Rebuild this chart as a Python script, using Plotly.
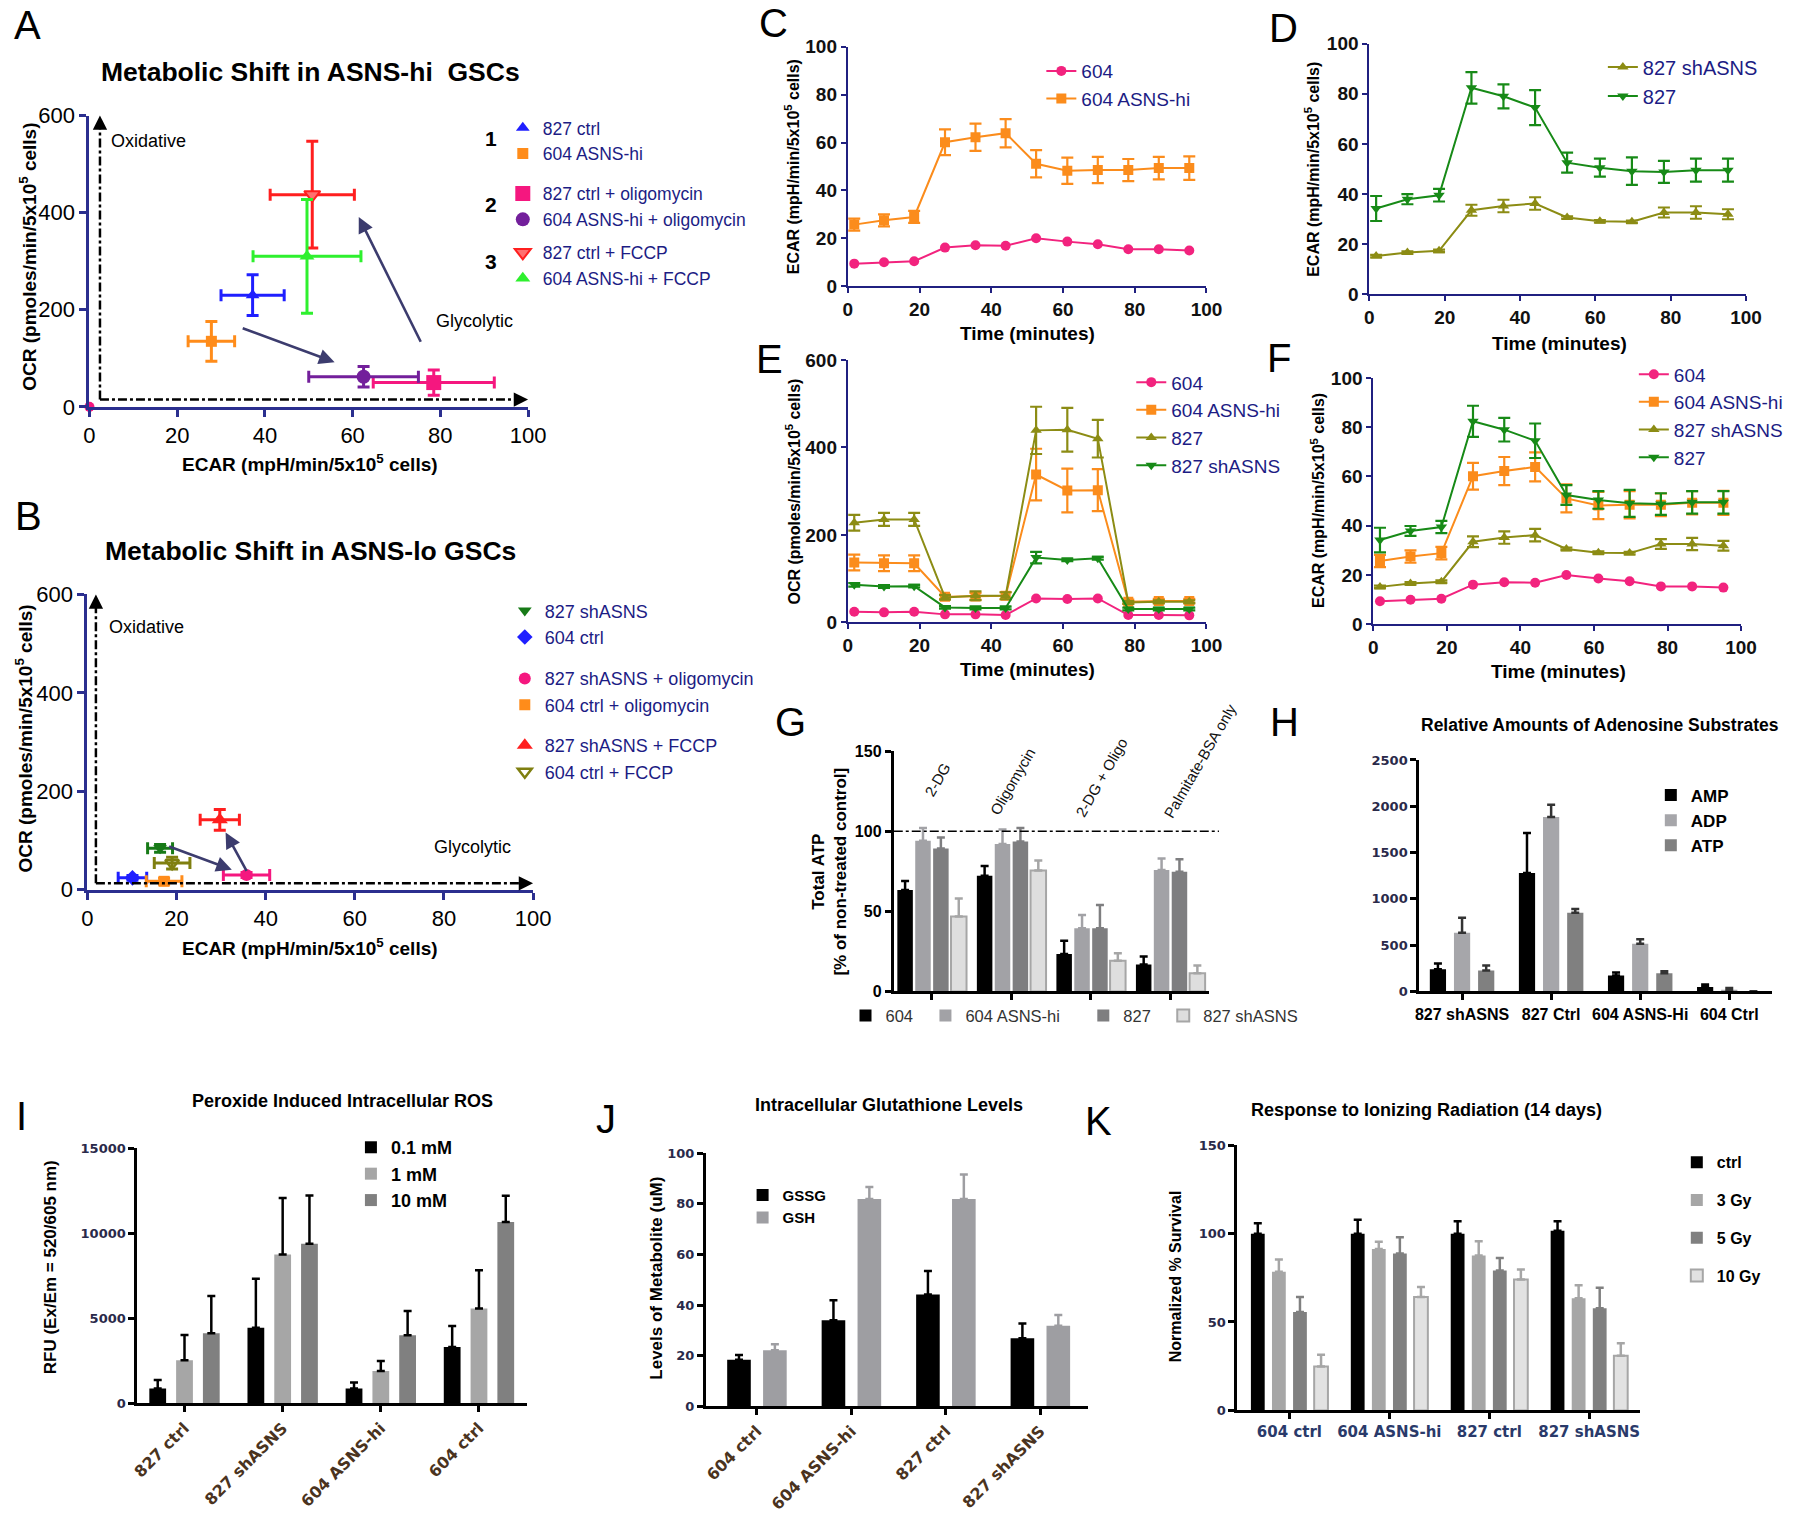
import plotly.graph_objects as go

W, H = 1800, 1525

# ---------------- data ----------------
A_names = ['827 ctrl', '604 ASNS-hi', '827 ctrl + oligomycin', '604 ASNS-hi + oligomycin',
           '827 ctrl + FCCP', '604 ASNS-hi + FCCP']
A_ecar = [37.2, 27.8, 78.5, 62.5, 50.8, 49.6]
A_ecar_err = [7.2, 5.3, 13.8, 12.5, 9.6, 12.3]
A_ocr = [230, 135, 50, 62, 437, 310]
A_ocr_err = [42, 41, 26, 21, 110, 117]
A_origin_ecar = [0]
A_origin_ocr = [0]

B_names = ['827 shASNS', '604 ctrl', '827 shASNS + oligomycin', '604 ctrl + oligomycin',
           '827 shASNS + FCCP', '604 ctrl + FCCP']
B_ecar = [16.3, 10.1, 35.7, 17.2, 29.7, 19.0]
B_ecar_err = [2.8, 3.2, 5.2, 4.0, 4.4, 4.0]
B_ocr = [84, 24, 30, 17, 142, 54]
B_ocr_err = [8, 5, 5, 6, 21, 12]

time_min = [1.8, 10.1, 18.5, 27.1, 35.6, 44.0, 52.5, 61.2, 69.7, 78.2, 86.7, 95.2]
ecar_604 = [9.4, 10.0, 10.4, 16.1, 17.1, 16.9, 20.0, 18.6, 17.5, 15.4, 15.4, 14.9]
ecar_604hi = [25.7, 27.5, 28.9, 60.1, 62.2, 63.9, 51.1, 48.2, 48.5, 48.5, 49.3, 49.3]
ecar_604hi_err = [2.5, 2.5, 2.5, 5.4, 5.7, 5.9, 5.7, 5.5, 5.5, 4.6, 4.7, 4.9]
ecar_827sh = [15.2, 16.6, 17.3, 33.5, 35.2, 36.2, 30.6, 29.1, 28.9, 32.6, 32.6, 31.9]
ecar_827sh_err = [0.5, 0.5, 0.5, 2.2, 2.5, 2.5, 0.5, 0.5, 0.5, 2.0, 2.5, 2.0]
ecar_827 = [34.2, 37.9, 39.5, 82.4, 79.0, 74.5, 52.5, 50.5, 49.1, 48.8, 49.5, 49.5]
ecar_827_err = [5.0, 2.0, 2.5, 6.3, 4.8, 7.0, 4.0, 3.6, 5.5, 4.4, 4.6, 4.6]

ocr_604 = [24.3, 22.8, 24.3, 18.2, 18.2, 16.7, 54.7, 53.2, 54.7, 16.7, 16.7, 16.0]
ocr_604hi = [136.7, 135, 135, 58.5, 59.2, 60.8, 338, 301.5, 302.3, 47, 48.6, 48.6]
ocr_604hi_err = [18, 18, 18, 5, 8, 8, 59, 50, 48, 5, 5, 5]
ocr_827 = [227.8, 235.4, 235.4, 57, 60.8, 60.8, 439, 440.5, 420, 45.6, 47, 47]
ocr_827_err = [18, 15, 15, 5, 10, 8, 54, 50, 43, 3, 3, 3]
ocr_827sh = [85.8, 82, 82.8, 34.2, 32.7, 32.7, 148, 142.8, 146.6, 30.4, 30.4, 30.4]
ocr_827sh_err = [4, 3, 3, 3, 3, 3, 13, 3, 3, 3, 3, 3]

G_cats = ['2-DG', 'Oligomycin', '2-DG + Oligo', 'Palmitate-BSA only']
G_names = ['604', '604 ASNS-hi', '827', '827 shASNS']
G_vals = [[63.3, 72.2, 23.4, 16.8],
          [94.0, 92.0, 39.4, 75.7],
          [89.2, 93.6, 39.4, 74.7],
          [46.7, 75.5, 19.1, 11.4]]
G_errs = [[5.6, 6.0, 8.3, 5.0],
          [8.0, 9.0, 8.3, 7.3],
          [6.8, 8.4, 14.6, 7.7],
          [11.3, 6.2, 4.8, 4.8]]
G_ref = [100]

H_cats = ['827 shASNS', '827 Ctrl', '604 ASNS-Hi', '604 Ctrl']
H_names = ['AMP', 'ADP', 'ATP']
H_vals = [[240, 1280, 172, 47],
          [635, 1883, 516, 18],
          [226, 850, 197, 3]]
H_errs = [[61, 431, 32, 28],
          [161, 133, 47, 18],
          [54, 40, 22, 0]]

I_cats = ['827 ctrl', '827 shASNS', '604 ASNS-hi', '604 ctrl']
I_names = ['0.1 mM', '1 mM', '10 mM']
I_vals = [[880, 4450, 880, 3320],
          [2540, 8750, 1910, 5570],
          [4120, 9380, 4000, 10660]]
I_errs = [[490, 2870, 350, 1230],
          [1480, 3320, 590, 2250],
          [2190, 2830, 1430, 1540]]

J_cats = ['604 ctrl', '604 ASNS-hi', '827 ctrl', '827 shASNS']
J_names = ['GSSG', 'GSH']
J_vals = [[18.4, 34.0, 44.2, 26.9],
          [22.2, 81.9, 81.9, 31.8]]
J_errs = [[1.9, 7.9, 9.2, 5.8],
          [2.3, 4.7, 9.6, 4.3]]

K_cats = ['604 ctrl', '604 ASNS-hi', '827 ctrl', '827 shASNS']
K_names = ['ctrl', '3 Gy', '5 Gy', '10 Gy']
K_vals = [[99.8, 99.8, 99.8, 101.6],
          [78.4, 91.3, 87.6, 63.4],
          [55.7, 88.7, 79.1, 57.8],
          [24.8, 64.1, 74.0, 30.9]]
K_errs = [[6.0, 8.0, 7.1, 5.3],
          [6.9, 4.0, 8.0, 7.3],
          [8.4, 9.2, 7.1, 11.6],
          [6.7, 5.6, 5.7, 7.0]]

# ---------------- styles ----------------
FONT = 'Liberation Sans, Arial, sans-serif'
WIDE = 'DejaVu Sans, Verdana, sans-serif'
NAVY = '#1c1c84'
AXNAVY = '#2b2f8f'
PINK = '#f2237e'
ORANGE = '#fb8c1c'
OLIVE = '#8c8c14'
GREEN = '#178a17'
SLATE = '#3c3c6e'
NUMCOL = '#2a2a4a'

A_colors = ['#1f1fff', '#ff8c1a', '#f5177f', '#731f9b', '#ff1f1f', '#2ef02e']
A_symbols = ['triangle-up', 'square', 'square', 'circle', 'triangle-down', 'triangle-up']
A_sizes = [12, 11, 15, 14, 14, 13]
B_colors = ['#177a17', '#1f1fff', '#f5177f', '#ff8c1a', '#ff1f1f', '#7f7f10']
B_symbols = ['triangle-down', 'diamond', 'circle', 'square', 'triangle-up', 'triangle-down-open']
B_sizes = [12, 12, 12, 11, 14, 12]

# the page shot maps figure pixels a little shrunk and shifted; positions below are
# given in final picture pixels and mapped back here
SX, OX = 0.9875, 13.5
SY, OY = 0.986, 19.2


def fx(p):
    return (p - OX) / SX


def fy(p):
    return (p - OY) / SY


def px(p):
    return fx(p) / W


def py(p):
    return 1 - fy(p) / H


fig = go.Figure()


def ax_names(n):
    return ('x', 'y') if n == 1 else ('x%d' % n, 'y%d' % n)


def add_axes(n, box, xkw, ykw):
    x0, x1, y0, y1 = box
    sx, sy = ax_names(n)
    kx = 'xaxis' if n == 1 else 'xaxis%d' % n
    ky = 'yaxis' if n == 1 else 'yaxis%d' % n
    base = dict(showgrid=False, zeroline=False, showline=True, ticks='outside', fixedrange=True)
    fig.update_layout(**{kx: dict(base, domain=[px(x0), px(x1)], anchor=sy, **xkw),
                         ky: dict(base, domain=[py(y1), py(y0)], anchor=sx, **ykw)})


annotations = []
shapes = []


def note(x, y, text, size, color='black', bold=False, angle=0, xanchor='center',
         yanchor='middle', family=FONT):
    annotations.append(dict(x=px(x), y=py(y), xref='paper', yref='paper', text=text,
                            showarrow=False, textangle=angle, xanchor=xanchor, yanchor=yanchor,
                            font=dict(size=size, color=color, family=family,
                                      weight='bold' if bold else 'normal')))


def legend_box(key, text_x, row_y, size, color='black', bold=False, gap=0, orientation='v',
               family=FONT):
    top = fy(row_y) - (0.65 * size + 7.6)
    fig.update_layout(**{key: dict(x=(fx(text_x) - 40.8) / W, y=1 - top / H,
                                   xanchor='left', yanchor='top',
                                   bgcolor='rgba(0,0,0,0)', orientation=orientation,
                                   tracegroupgap=gap, traceorder='grouped' if gap else 'normal',
                                   font=dict(size=size, color=color, family=family,
                                             weight='bold' if bold else 'normal'))})


# ---------------- A and B ----------------
def scatter_panel(n, legkeys, names, ecar, ecar_err, ocr, ocr_err, colors, symbols, sizes):
    sx, sy = ax_names(n)
    for i, name in enumerate(names):
        c = colors[i]
        mk = dict(symbol=symbols[i], size=sizes[i], color=c)
        if symbols[i].endswith('open'):
            mk['line'] = dict(color=c, width=2.5)
        if name.endswith('ctrl + FCCP') and n == 1:
            mk = dict(symbol=symbols[i], size=sizes[i], color='#ff7070', line=dict(color=c, width=2))
        fig.add_trace(go.Scatter(
            x=[ecar[i]], y=[ocr[i]], mode='markers', name=name, marker=mk,
            error_x=dict(type='data', array=[ecar_err[i]], color=c, thickness=3, width=6),
            error_y=dict(type='data', array=[ocr_err[i]], color=c, thickness=3, width=6),
            xaxis=sx, yaxis=sy, legend=legkeys[i // 2], cliponaxis=False))


axA = dict(linecolor=AXNAVY, linewidth=3, tickcolor=AXNAVY, tickwidth=2.5, ticklen=7,
           tickfont=dict(size=22, color='black', family=FONT))
add_axes(1, (89, 528, 115, 407), dict(axA, range=[0, 100], dtick=20),
         dict(axA, range=[0, 600], dtick=200))
add_axes(2, (87, 533, 595, 891), dict(axA, range=[0, 100], dtick=20),
         dict(axA, range=[0, 600], dtick=200))

scatter_panel(1, ['legend', 'legend12', 'legend13'], A_names, A_ecar, A_ecar_err, A_ocr, A_ocr_err,
              A_colors, A_symbols, A_sizes)
fig.add_trace(go.Scatter(x=A_origin_ecar, y=A_origin_ocr, mode='markers', showlegend=False,
                         marker=dict(color=A_colors[2], size=10), cliponaxis=False,
                         xaxis='x', yaxis='y'))
scatter_panel(2, ['legend2', 'legend14', 'legend15'], B_names, B_ecar, B_ecar_err, B_ocr, B_ocr_err,
              B_colors, B_symbols, B_sizes)

for key, row in [('legend', 128), ('legend12', 194), ('legend13', 253)]:
    legend_box(key, 543, row, 17.5, NAVY)
for key, row in [('legend2', 612), ('legend14', 680), ('legend15', 747)]:
    legend_box(key, 545, row, 18, NAVY)
for lab, yy in zip(['1', '2', '3'], [138, 204, 261]):
    note(491, yy, lab, 21, bold=True)


def quadrant_axes(sx, sy, xv, yh):
    shapes.append(dict(type='line', xref=sx, yref=sy, x0=xv, x1=xv, y0=yh, y1=585,
                       line=dict(color='black', width=2.5, dash='dashdot')))
    shapes.append(dict(type='line', xref=sx, yref=sy, x0=xv, x1=97, y0=yh, y1=yh,
                       line=dict(color='black', width=2.5, dash='dashdot')))
    annotations.append(dict(x=xv, y=600, xref=sx, yref=sy, ax=0, ay=14, text='', showarrow=True,
                            arrowhead=2, arrowsize=1.3, arrowwidth=2.2, arrowcolor='black'))
    annotations.append(dict(x=100, y=yh, xref=sx, yref=sy, ax=-14, ay=0, text='', showarrow=True,
                            arrowhead=2, arrowsize=1.3, arrowwidth=2.2, arrowcolor='black'))


def slate_arrow(sx, sy, x0, y0, x1, y1):
    annotations.append(dict(x=x1, y=y1, ax=x0, ay=y0, xref=sx, yref=sy, axref=sx, ayref=sy,
                            text='', showarrow=True, arrowhead=2, arrowsize=1.2,
                            arrowwidth=2.6, arrowcolor=SLATE))


quadrant_axes('x', 'y', 2.4, 15)
quadrant_axes('x2', 'y2', 1.9, 13)
slate_arrow('x', 'y', 34.6, 163, 55.9, 92)
slate_arrow('x', 'y', 75.7, 131, 61.4, 391)
slate_arrow('x2', 'y2', 18, 89, 32.4, 40.6)
slate_arrow('x2', 'y2', 35.9, 35, 31, 116)

for sx, sy, yo, yg, xg in [('x', 'y', 548, 177, 87.7), ('x2', 'y2', 533, 87, 86.5)]:
    annotations.append(dict(x=4.5, y=yo, xref=sx, yref=sy, text='Oxidative', showarrow=False,
                            xanchor='left', font=dict(size=18, color='black', family=FONT)))
    annotations.append(dict(x=xg, y=yg, xref=sx, yref=sy, text='Glycolytic', showarrow=False,
                            font=dict(size=18, color='black', family=FONT)))

note(310, 71, 'Metabolic Shift in ASNS-hi  GSCs', 26.5, bold=True)
note(310, 551, 'Metabolic Shift in ASNS-lo GSCs', 26.5, bold=True)
note(28, 256, 'OCR (pmoles/min/5x10<sup>5</sup> cells)', 19, bold=True, angle=-90)
note(310, 463, 'ECAR (mpH/min/5x10<sup>5</sup> cells)', 19, bold=True)
note(24, 739, 'OCR (pmoles/min/5x10<sup>5</sup> cells)', 19, bold=True, angle=-90)
note(310, 948, 'ECAR (mpH/min/5x10<sup>5</sup> cells)', 19, bold=True)

# ---------------- C-F ----------------
axT = dict(linecolor='#202080', linewidth=2, tickcolor='#202080', tickwidth=1.5, ticklen=5,
           tickfont=dict(size=19, color='#111111', family=FONT, weight='bold'))
add_axes(3, (848, 1207, 46, 286), dict(axT, range=[0, 100], dtick=20), dict(axT, range=[0, 100], dtick=20))
add_axes(4, (1370, 1747, 43, 294), dict(axT, range=[0, 100], dtick=20), dict(axT, range=[0, 100], dtick=20))
add_axes(5, (848, 1207, 360, 623), dict(axT, range=[0, 100], dtick=20), dict(axT, range=[0, 600], dtick=200))
add_axes(6, (1374, 1742, 378, 625), dict(axT, range=[0, 100], dtick=20), dict(axT, range=[0, 100], dtick=20))


def course(n, legkey, y, err, name, color, symbol):
    sx, sy = ax_names(n)
    eb = None
    if err is not None:
        eb = dict(type='data', array=err, color=color, thickness=2.2, width=6)
    fig.add_trace(go.Scatter(x=time_min, y=y, mode='lines+markers', name=name,
                             line=dict(color=color, width=2),
                             marker=dict(symbol=symbol, size=10, color=color),
                             error_y=eb, xaxis=sx, yaxis=sy, legend=legkey))


course(3, 'legend3', ecar_604, None, '604', PINK, 'circle')
course(3, 'legend3', ecar_604hi, ecar_604hi_err, '604 ASNS-hi', ORANGE, 'square')
course(4, 'legend4', ecar_827sh, ecar_827sh_err, '827 shASNS', OLIVE, 'triangle-up')
course(4, 'legend4', ecar_827, ecar_827_err, '827', GREEN, 'triangle-down')
course(5, 'legend5', ocr_604, None, '604', PINK, 'circle')
course(5, 'legend5', ocr_604hi, ocr_604hi_err, '604 ASNS-hi', ORANGE, 'square')
course(5, 'legend5', ocr_827, ocr_827_err, '827', OLIVE, 'triangle-up')
course(5, 'legend5', ocr_827sh, ocr_827sh_err, '827 shASNS', GREEN, 'triangle-down')
course(6, 'legend6', ecar_604, None, '604', PINK, 'circle')
course(6, 'legend6', ecar_604hi, ecar_604hi_err, '604 ASNS-hi', ORANGE, 'square')
course(6, 'legend6', ecar_827sh, ecar_827sh_err, '827 shASNS', OLIVE, 'triangle-up')
course(6, 'legend6', ecar_827, ecar_827_err, '827', GREEN, 'triangle-down')

legend_box('legend3', 1082, 71, 19, NAVY)
legend_box('legend4', 1644, 67, 20, NAVY)
legend_box('legend5', 1172, 383, 19, NAVY)
legend_box('legend6', 1675, 375, 19, NAVY)

ecar_title = 'ECAR (mpH/min/5x10<sup>5</sup> cells)'
ocr_title = 'OCR (pmoles/min/5x10<sup>5</sup> cells)'
note(793, 166, ecar_title, 16, bold=True, angle=-90)
note(1313, 169, ecar_title, 16, bold=True, angle=-90)
note(793, 492, ocr_title, 16, bold=True, angle=-90)
note(1318, 501, ecar_title, 16, bold=True, angle=-90)
for xx, yy in [(1028, 333), (1560, 343), (1028, 670), (1559, 672)]:
    note(xx, yy, 'Time (minutes)', 19, bold=True)

# ---------------- bar panels ----------------
axB = dict(linecolor='black', linewidth=3, tickcolor='black', tickwidth=2.5, ticklen=6)
numfont = dict(size=13, color=NUMCOL, family=WIDE, weight='bold')


def bars(n, legkeys, cats, vals, errs, names, fills, lines, ecolors, width, step, group=False):
    sx, sy = ax_names(n)
    k = len(vals)
    for i in range(k):
        offset = -((k - 1) * step + width) / 2 + i * step
        fig.add_trace(go.Bar(
            x=cats, y=vals[i], name=names[i], width=width, offset=offset,
            marker=dict(color=fills[i], line=dict(color=lines[i], width=2 if lines[i] != fills[i] else 0)),
            error_y=dict(type='data', array=errs[i], arrayminus=[0] * len(errs[i]), symmetric=False,
                         color=ecolors[i], thickness=2.5, width=4),
            xaxis=sx, yaxis=sy, legend=legkeys[i] if isinstance(legkeys, list) else legkeys,
            legendgroup=(names[i] if group else None)))


# G
add_axes(7, (894, 1210, 752, 993),
         dict(axB, range=[-0.48, 3.49], showticklabels=False, type='category'),
         dict(axB, range=[0, 150], dtick=50, tickfont=dict(size=16, color='black', family=FONT, weight='bold')))
G_fill = ['#000000', '#a2a2a6', '#7e7e80', '#dedede']
G_line = ['#000000', '#a2a2a6', '#7e7e80', '#a6a6a6']
G_legs = ['legend7', 'legend16', 'legend17', 'legend18']
bars(7, G_legs, G_cats, G_vals, G_errs, G_names, G_fill, G_line,
     ['#000000', '#a2a2a6', '#7e7e80', '#a6a6a6'], 0.195, 0.225)
shapes.append(dict(type='line', xref='x7 domain', yref='y7', x0=0, x1=1.03, y0=G_ref[0], y1=G_ref[0],
                   line=dict(color='black', width=1.5, dash='dashdot')))
for key, tx in zip(G_legs, [886, 966, 1124, 1204]):
    legend_box(key, tx, 1018, 16.5, '#333333')
for lab, xx, yy in zip(G_cats, [938, 1013, 1102, 1201], [781, 783, 779, 762]):
    note(xx, yy, lab, 15, color='#111111', angle=-60)
note(830, 873, '<b>Total ATP</b><br><b>[% of non-treated control]</b>', 17, angle=-90)

# H
add_axes(8, (1420, 1773, 761, 993),
         dict(axB, range=[-0.48, 3.48], type='category',
              tickfont=dict(size=16, color='black', family=FONT, weight='bold')),
         dict(axB, range=[0, 2500], dtick=500, tickformat='d', tickfont=numfont))
bars(8, 'legend8', H_cats, H_vals, H_errs, H_names, ['#000000', '#a6a6aa', '#808080'],
     ['#000000', '#a6a6aa', '#808080'], ['#000000', '#333333', '#333333'], 0.182, 0.271)
legend_box('legend8', 1692, 797, 17, bold=True)
note(1601, 726, 'Relative Amounts of Adenosine Substrates', 17.5, bold=True)

# I
add_axes(9, (137, 527, 1150, 1406),
         dict(axB, range=[-0.48, 3.49], type='category', tickangle=-45,
              tickfont=dict(size=16, color='#4a3320', family=WIDE, weight='bold')),
         dict(axB, range=[0, 15000], dtick=5000, tickformat='d', tickfont=numfont))
bars(9, 'legend9', I_cats, I_vals, I_errs, I_names, ['#000000', '#a6a6a6', '#808080'],
     ['#000000', '#a6a6a6', '#808080'], ['#000000', '#000000', '#000000'], 0.171, 0.273)
legend_box('legend9', 391, 1150, 18, bold=True)
note(342, 1103, 'Peroxide Induced Intracellular ROS', 18, bold=True)
note(50, 1269, 'RFU (Ex/Em = 520/605 nm)', 17, bold=True, angle=-90)

# J
add_axes(10, (706, 1088, 1155, 1409),
         dict(axB, range=[-0.54, 3.5], type='category', tickangle=-45,
              tickfont=dict(size=16, color='#4a3320', family=WIDE, weight='bold')),
         dict(axB, range=[0, 100], dtick=20, tickfont=numfont))
bars(10, 'legend10', J_cats, J_vals, J_errs, J_names, ['#000000', '#9e9ea2'],
     ['#000000', '#9e9ea2'], ['#000000', '#9e9ea2'], 0.25, 0.38)
legend_box('legend10', 783, 1198, 15, bold=True)
note(889, 1107, 'Intracellular Glutathione Levels', 18, bold=True)
note(657, 1280, 'Levels of Metabolite (uM)', 17, bold=True, angle=-90)

# K
add_axes(11, (1238, 1641, 1147, 1413),
         dict(axB, range=[-0.52, 3.51], type='category',
              tickfont=dict(size=15, color='#2a3a6a', family=WIDE, weight='bold')),
         dict(axB, range=[0, 150], dtick=50, tickfont=numfont))
bars(11, 'legend11', K_cats, K_vals, K_errs, K_names,
     ['#000000', '#a6a6a6', '#808080', '#e2e2e2'], ['#000000', '#a6a6a6', '#808080', '#a6a6a6'],
     ['#000000', '#a6a6a6', '#808080', '#a6a6a6'], 0.138, 0.211, group=True)
legend_box('legend11', 1718, 1165, 16, bold=True, gap=14)
note(1427, 1112, 'Response to Ionizing Radiation (14 days)', 18, bold=True)
note(1176, 1279, 'Normalized % Survival', 16, bold=True, angle=-90)

# ---------------- panel letters (left edge, cap top) ----------------
for lab, xx, yy in [('A', 17, 10), ('B', 18, 502), ('C', 763, 8), ('D', 1274, 13), ('E', 760, 345),
                    ('F', 1272, 344), ('G', 779, 709), ('H', 1275, 709), ('I', 20, 1104),
                    ('J', 600, 1107), ('K', 1089, 1109)]:
    note(xx - 6, yy + 14, lab, 40, xanchor='left', yanchor='middle')

fig.update_layout(width=W, height=H, margin=dict(l=0, r=0, t=0, b=0),
                  paper_bgcolor='white', plot_bgcolor='white', barmode='group',
                  font=dict(family=FONT, color='black'),
                  annotations=annotations, shapes=shapes, showlegend=True)

fig.write_html('out.html')
